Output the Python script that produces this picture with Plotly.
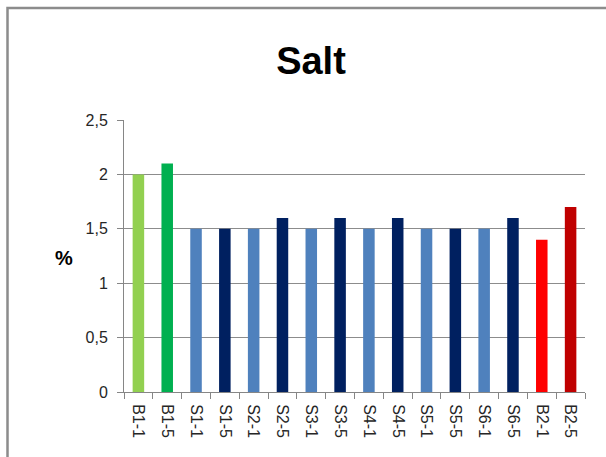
import plotly.graph_objects as go

categories = ["B1-1", "B1-5", "S1-1", "S1-5", "S2-1", "S2-5", "S3-1", "S3-5",
              "S4-1", "S4-5", "S5-1", "S5-5", "S6-1", "S6-5", "B2-1", "B2-5"]
values = [2.0, 2.1, 1.5, 1.5, 1.5, 1.6, 1.5, 1.6, 1.5, 1.6, 1.5, 1.5, 1.5, 1.6, 1.4, 1.7]
bar_colors = ["#92D050", "#00B050", "#4F81BD", "#002060", "#4F81BD", "#002060",
              "#4F81BD", "#002060", "#4F81BD", "#002060", "#4F81BD", "#002060",
              "#4F81BD", "#002060", "#FF0000", "#C00000"]
y_ticks = [0, 0.5, 1, 1.5, 2, 2.5]

W, H = 606, 457
L, R, T, B = 124, 21, 120, 65
pw, ph = W - L - R, H - T - B

def px_x(x):
    return (x - L) / pw

def px_y(y):
    return (H - B - y) / ph

fig = go.Figure(go.Bar(x=categories, y=values, marker=dict(color=bar_colors, line=dict(width=0)),
                       width=0.4))

font_family = "Liberation Sans, Arial, sans-serif"

fig.update_layout(
    width=W, height=H,
    margin=dict(l=L, r=R, t=T, b=B, autoexpand=False),
    paper_bgcolor="white", plot_bgcolor="white",
    separators=",.",
    showlegend=False,
    font=dict(family=font_family, color="#262626"),
    title=dict(text="<b>Salt</b>", x=px_x(311), xref="paper", xanchor="center",
               y=1 - 61 / H, yanchor="middle", font=dict(size=38, color="black")),
    xaxis=dict(type="category", tickangle=90, tickfont=dict(size=16, color="#262626"),
               showline=True, linecolor="#868686", linewidth=1, automargin=False,
               ticks="outside", ticklen=6, tickcolor="#868686", tickson="boundaries",
               ticklabelstandoff=8, showgrid=False),
    yaxis=dict(range=[0, 2.5], tickvals=y_ticks, tickfont=dict(size=16, color="#262626"),
               showline=True, linecolor="#868686", linewidth=1, automargin=False,
               ticks="outside", ticklen=6, tickcolor="#868686", ticklabelstandoff=6,
               showgrid=True, gridcolor="#8c8c8c", gridwidth=1, zeroline=False),
    annotations=[dict(text="<b>%</b>", x=px_x(53), y=px_y(258), xref="paper", yref="paper",
                      showarrow=False, font=dict(size=20, color="black"))],
    shapes=[dict(type="rect", xref="paper", yref="paper",
                 x0=px_x(7.5), y0=px_y(480), x1=px_x(640), y1=px_y(8),
                 line=dict(color="#8c8c8c", width=2.5), fillcolor="rgba(0,0,0,0)", layer="below")],
)

fig.write_html("out.html", config={"displayModeBar": False},
               post_script="document.body.style.margin='0';")
